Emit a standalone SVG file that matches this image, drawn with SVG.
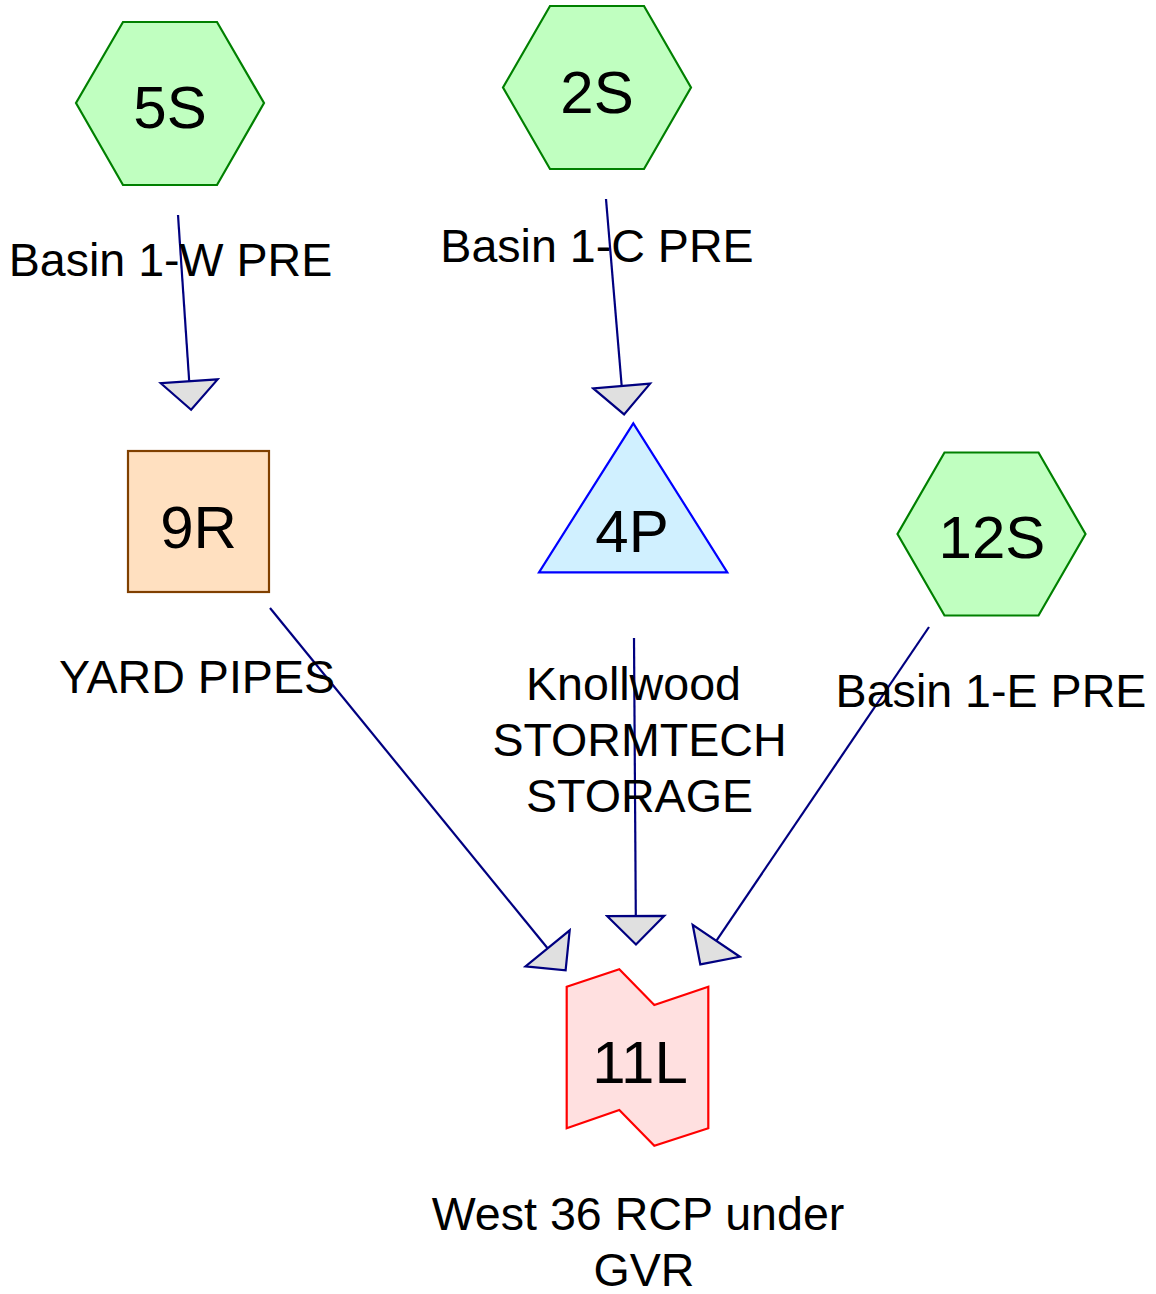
<svg xmlns="http://www.w3.org/2000/svg" width="1156" height="1294" viewBox="0 0 1156 1294">
  <style>
    .hex { fill: #c0ffc0; stroke: #008000; stroke-width: 2.2; }
    .reach { fill: #ffe0c0; stroke: #804000; stroke-width: 2.2; }
    .pond { fill: #d0f0ff; stroke: #0000ff; stroke-width: 2.2; }
    .link { fill: #ffe0e0; stroke: #ff0000; stroke-width: 2.2; }
    .id { font-family: "Liberation Sans", Arial, sans-serif; font-size: 60px; fill: #000; text-anchor: middle; }
    .lbl { font-family: "Liberation Sans", Arial, sans-serif; font-size: 46.6px; fill: #000; text-anchor: middle; }
    .edge { stroke: #000080; stroke-width: 2.2; fill: none; marker-end: url(#head); }
  </style>
  <defs>
    <marker id="head" markerUnits="userSpaceOnUse" viewBox="-2 -31 33 62" markerWidth="33" markerHeight="62" refX="0" refY="0" orient="auto">
      <path d="M0,-28.5 L28.5,0 L0,28.5 Z" fill="#e0e0e0" stroke="#000080" stroke-width="2.2" stroke-linejoin="miter"/>
    </marker>
  </defs>
  <rect width="1156" height="1294" fill="#ffffff"/>

  <g id="connectors">
    <line class="edge" x1="178" y1="215" x2="189.2" y2="381.3"/>
    <line class="edge" x1="606" y1="199" x2="621.7" y2="386"/>
    <line class="edge" x1="270" y1="608" x2="547.6" y2="948.3"/>
    <line class="edge" x1="634" y1="638" x2="635.8" y2="916"/>
    <line class="edge" x1="929" y1="627" x2="716.3" y2="940.8"/>
  </g>

  <g id="node-5S">
    <polygon class="hex" points="123,22 217,22 264,103 217,185 123,185 76,103"/>
    <text class="id" x="170" y="128">5S</text>
    <text class="lbl" x="170.5" y="276">Basin 1-W PRE</text>
  </g>

  <g id="node-2S">
    <polygon class="hex" points="550,6 644,6 691,87.5 644,169 550,169 503,87.5"/>
    <text class="id" x="597" y="113">2S</text>
    <text class="lbl" x="597" y="262">Basin 1-C PRE</text>
  </g>

  <g id="node-9R">
    <rect class="reach" x="128" y="451" width="141" height="141"/>
    <text class="id" x="198.5" y="548">9R</text>
    <text class="lbl" x="197" y="693">YARD PIPES</text>
  </g>

  <g id="node-4P">
    <polygon class="pond" points="633.3,423.3 727.3,572.3 539,572.3"/>
    <text class="id" x="632" y="551.5">4P</text>
    <text class="lbl" x="633.5" y="700">Knollwood</text>
    <text class="lbl" x="639.5" y="756">STORMTECH</text>
    <text class="lbl" x="639.5" y="811.5">STORAGE</text>
  </g>

  <g id="node-12S">
    <polygon class="hex" points="944.5,452.5 1038.5,452.5 1085.5,534 1038.5,615.5 944.5,615.5 897.5,534"/>
    <text class="id" x="992" y="558">12S</text>
    <text class="lbl" x="991" y="706.5">Basin 1-E PRE</text>
  </g>

  <g id="node-11L">
    <polygon class="link" points="566.7,986.7 619.3,969.3 654.3,1005 708.3,986.7 708.3,1128.3 654.3,1145.7 619.3,1110 566.7,1128.3"/>
    <text class="id" x="640" y="1082.5">11L</text>
    <text class="lbl" x="638" y="1230">West 36 RCP under</text>
    <text class="lbl" x="644" y="1286">GVR</text>
  </g>
</svg>
